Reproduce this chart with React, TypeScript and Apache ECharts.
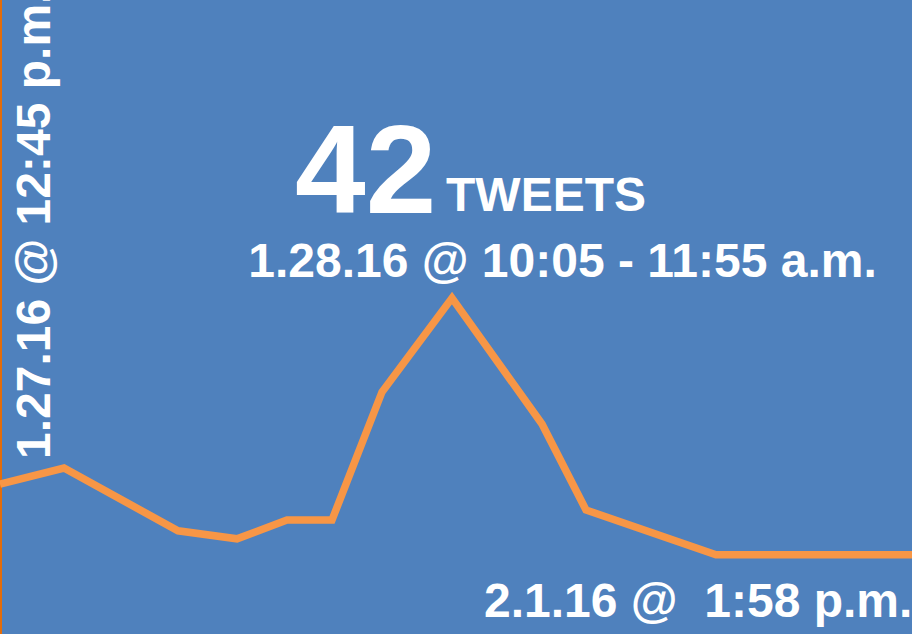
import React, { useEffect, useRef } from "react";
import * as echarts from "echarts";

// Time steps along the x axis (relative position units) and tweet counts per step
const timeSteps = [0, 64, 178, 237, 287, 332, 382, 452, 542, 586, 716, 912];
const tweetCounts = [18.75, 20.75, 12.9, 11.9, 14.25, 14.25, 30.25, 42, 26.25, 15.5, 9.9, 9.9];

const X_MIN = 0;
const X_MAX = 912;
const Y_MIN = 0;
const Y_MAX = 79.25;

const peakValue = "42";
const peakUnit = "TWEETS";
const peakLabel = "1.28.16 @ 10:05 - 11:55 a.m.";
const startLabel = "1.27.16 @ 12:45 p.m.";
const endLabel = "2.1.16 @  1:58 p.m.";

const FONT = "'Liberation Sans', Arial, sans-serif";

export default function App() {
  const ref = useRef<HTMLDivElement>(null);
  useEffect(() => {
    if (!ref.current) return;
    const chart = echarts.init(ref.current, undefined, { renderer: "svg" });
    const data = timeSteps.map((t, i) => [t, tweetCounts[i]]);
    chart.setOption({
      animation: false,
      backgroundColor: "#4F81BD",
      grid: { left: 0, right: 0, top: 0, bottom: 0 },
      xAxis: {
        type: "value",
        min: X_MIN,
        max: X_MAX,
        show: false,
      },
      yAxis: {
        type: "value",
        min: Y_MIN,
        max: Y_MAX,
        show: true,
        axisLine: { show: true, lineStyle: { color: "#E36C0A", width: 3 } },
        axisLabel: { show: false },
        axisTick: { show: false },
        splitLine: { show: false },
      },
      series: [
        {
          type: "line",
          data,
          showSymbol: false,
          symbol: "none",
          lineStyle: { color: "#F79646", width: 7.5, join: "miter" },
        },
      ],
      graphic: [
        {
          type: "text",
          x: 295,
          y: 169,
          style: {
            text: peakValue,
            fill: "#FFFFFF",
            font: `bold 127px ${FONT}`,
            align: "left",
            verticalAlign: "middle",
          },
        },
        {
          type: "text",
          x: 446,
          y: 194,
          style: {
            text: peakUnit,
            fill: "#FFFFFF",
            font: `bold 48px ${FONT}`,
            align: "left",
            verticalAlign: "middle",
          },
        },
        {
          type: "text",
          x: 562.5,
          y: 260.5,
          style: {
            text: peakLabel,
            fill: "#FFFFFF",
            font: `bold 48px ${FONT}`,
            align: "center",
            verticalAlign: "middle",
          },
        },
        {
          type: "text",
          x: 484,
          y: 600.5,
          style: {
            text: endLabel,
            fill: "#FFFFFF",
            font: `bold 48px ${FONT}`,
            align: "left",
            verticalAlign: "middle",
          },
        },
        {
          type: "text",
          x: 33.5,
          y: 459,
          rotation: Math.PI / 2,
          style: {
            text: startLabel,
            fill: "#FFFFFF",
            font: `bold 48px ${FONT}`,
            align: "left",
            verticalAlign: "middle",
          },
        },
      ],
    });
    return () => chart.dispose();
  }, []);
  return (
    <div
      ref={ref}
      style={{ position: "fixed", left: 0, top: 0, width: 912, height: 634 }}
    />
  );
}
